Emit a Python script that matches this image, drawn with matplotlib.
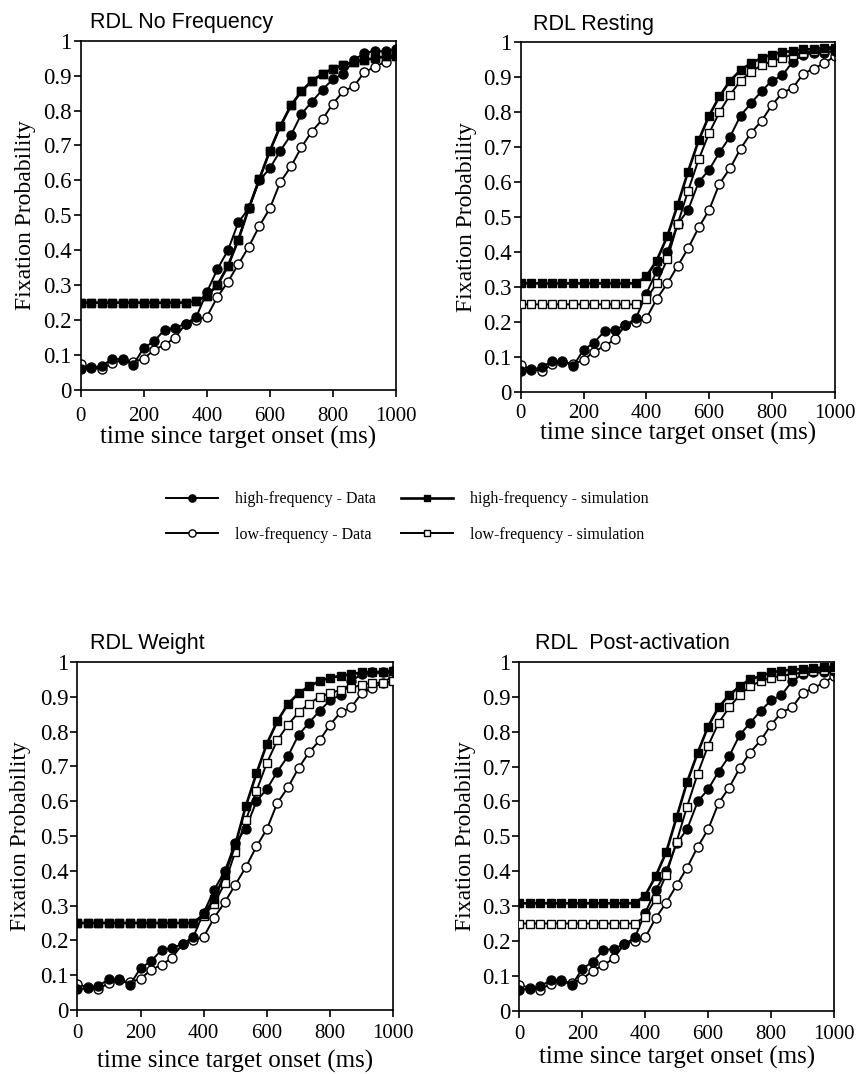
import numpy as np
import matplotlib
matplotlib.use('Agg')
import matplotlib.pyplot as plt

# time bins (ms), 31 samples 0..1000
t = [0, 33, 67, 100, 133, 167, 200, 233, 267, 300, 333, 367, 400, 433, 467, 500,
     533, 567, 600, 633, 667, 700, 733, 767, 800, 833, 867, 900, 933, 967, 1000]

# observed data, same in all panels
hf_data = [0.06, 0.063, 0.07, 0.088, 0.088, 0.073, 0.12, 0.14, 0.173, 0.178, 0.19, 0.21,
           0.28, 0.345, 0.40, 0.48, 0.52, 0.60, 0.635, 0.685, 0.73, 0.79, 0.825, 0.86,
           0.89, 0.905, 0.945, 0.965, 0.97, 0.97, 0.975]
lf_data = [0.075, 0.065, 0.06, 0.078, 0.085, 0.08, 0.09, 0.115, 0.13, 0.15, 0.19, 0.20,
           0.21, 0.265, 0.31, 0.36, 0.41, 0.47, 0.52, 0.595, 0.64, 0.695, 0.74, 0.775,
           0.82, 0.855, 0.87, 0.91, 0.925, 0.94, 0.96]

# simulations (first 12 bins flat)
nofreq_sim = [0.25] * 11 + [0.255, 0.27, 0.30, 0.355, 0.43, 0.52, 0.605, 0.685, 0.755,
                            0.815, 0.855, 0.885, 0.905, 0.92, 0.93, 0.94, 0.945, 0.95,
                            0.955, 0.955]

rest_hf_sim = [0.31] * 12 + [0.33, 0.375, 0.445, 0.535, 0.63, 0.72, 0.79, 0.845, 0.89,
                             0.92, 0.94, 0.955, 0.965, 0.972, 0.975, 0.98, 0.98, 0.985, 0.985]
rest_lf_sim = [0.25] * 12 + [0.265, 0.31, 0.38, 0.48, 0.575, 0.665, 0.74, 0.80, 0.85,
                             0.89, 0.915, 0.935, 0.945, 0.955, 0.965, 0.97, 0.975, 0.978, 0.98]

weight_hf_sim = [0.25] * 12 + [0.275, 0.32, 0.39, 0.475, 0.585, 0.68, 0.765, 0.83, 0.88,
                               0.91, 0.93, 0.945, 0.955, 0.96, 0.965, 0.97, 0.97, 0.972, 0.975]
weight_lf_sim = [0.25] * 12 + [0.27, 0.305, 0.365, 0.455, 0.545, 0.63, 0.71, 0.775, 0.82,
                               0.855, 0.88, 0.90, 0.91, 0.92, 0.925, 0.935, 0.94, 0.94, 0.945]

post_hf_sim = [0.308] * 12 + [0.33, 0.385, 0.455, 0.555, 0.655, 0.74, 0.815, 0.87, 0.905,
                              0.93, 0.95, 0.96, 0.97, 0.975, 0.978, 0.98, 0.982, 0.985, 0.985]
post_lf_sim = [0.25] * 12 + [0.27, 0.32, 0.39, 0.485, 0.585, 0.68, 0.76, 0.825, 0.87,
                             0.905, 0.93, 0.945, 0.955, 0.96, 0.965, 0.97, 0.975, 0.978, 0.98]

titles = ['RDL No Frequency', 'RDL Resting', 'RDL Weight', 'RDL  Post-activation']
sims = [(nofreq_sim, nofreq_sim), (rest_hf_sim, rest_lf_sim),
        (weight_hf_sim, weight_lf_sim), (post_hf_sim, post_lf_sim)]

plt.rcParams['font.family'] = ['Liberation Serif', 'DejaVu Serif']

fig = plt.figure(figsize=(8.58, 10.74), dpi=100)
W, H = 858.0, 1074.0
# axes boxes in pixels: (left, top, right, bottom)
boxes = [(80.7, 40.7, 396, 390), (520.7, 42.3, 834.7, 391.7),
         (77.3, 662, 393.3, 1010), (519.3, 662, 834, 1010.7)]
xpads = [7, 4, 5, 5]        # tick label pad per panel
xlpads = [0, -1, 5, 2]      # xlabel pad per panel
ylpads = [5, 4, 6, 4]
title_x = [0.03, 0.04, 0.04, 0.05]

handles = None
for i, (box, title, (hs, ls)) in enumerate(zip(boxes, titles, sims)):
    l, top, r, b = box
    ax = fig.add_axes([l / W, 1 - b / H, (r - l) / W, (b - top) / H])
    h1, = ax.plot(t, hf_data, '-o', color='black', lw=1.4, ms=6.5,
                  mfc='black', mec='black', mew=1.0, zorder=3)
    h2, = ax.plot(t, lf_data, '-o', color='black', lw=1.4, ms=6.5,
                  mfc='white', mec='black', mew=1.0, zorder=2)
    h4, = ax.plot(t, ls, '-s', color='black', lw=1.4, ms=6,
                  mfc='white', mec='black', mew=1.0, zorder=4)
    h3, = ax.plot(t, hs, '-s', color='black', lw=1.9, ms=6,
                  mfc='black', mec='black', mew=1.0, zorder=5)
    handles = [h1, h2, h3, h4]
    ax.set_xlim(0, 1000)
    ax.set_ylim(0, 1)
    ax.set_xticks(np.arange(0, 1001, 200))
    ax.set_yticks(np.arange(0, 1.01, 0.1))
    ax.set_yticklabels(['0', '0.1', '0.2', '0.3', '0.4', '0.5', '0.6', '0.7',
                        '0.8', '0.9', '1'])
    ax.tick_params(direction='out', length=5, width=1.2)
    ax.tick_params(axis='x', labelsize=15, pad=xpads[i])
    ax.tick_params(axis='y', labelsize=16.5, pad=1.5)
    for s in ax.spines.values():
        s.set_linewidth(1.2)
    ax.set_xlabel('time since target onset (ms)', fontsize=18, labelpad=xlpads[i])
    ax.set_ylabel('Fixation Probability', fontsize=17, labelpad=ylpads[i])
    ax.text(title_x[i], 1.022, title, transform=ax.transAxes, fontsize=15.5,
            family=['Liberation Sans', 'DejaVu Sans'], ha='left', va='bottom')

labels = ['high-frequency - Data', 'low-frequency - Data',
          'high-frequency - simulation', 'low-frequency - simulation']
leg = fig.legend(handles, labels, loc='center', bbox_to_anchor=(0.475, 1 - 517 / H),
                 ncol=2, frameon=False, fontsize=11.5, handlelength=3.25,
                 handletextpad=1.05, columnspacing=1.6, markerscale=0.8,
                 labelspacing=1.2)

fig.savefig('out.png', dpi=100)
